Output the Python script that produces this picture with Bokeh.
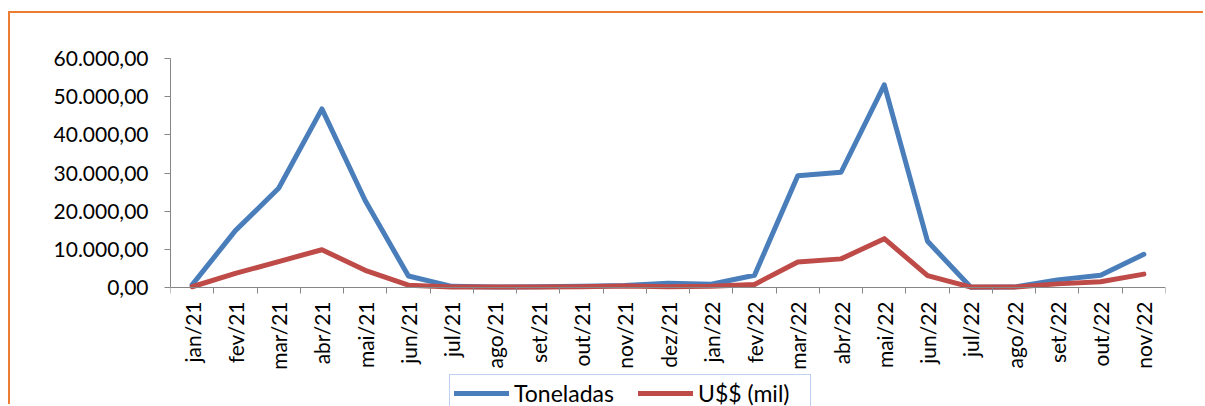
import math
from bokeh.plotting import figure
from bokeh.models import (Range1d, FixedTicker, CustomJSTickFormatter, Legend, LegendItem,
                          ColumnDataSource)
from bokeh.embed import file_html
from bokeh.resources import INLINE

months = ["jan/21", "fev/21", "mar/21", "abr/21", "mai/21", "jun/21", "jul/21", "ago/21",
          "set/21", "out/21", "nov/21", "dez/21", "jan/22", "fev/22", "mar/22", "abr/22",
          "mai/22", "jun/22", "jul/22", "ago/22", "set/22", "out/22", "nov/22"]
toneladas = [700, 14900, 26000, 46800, 22800, 3000, 300, 100, 200, 300, 500, 1100,
             850, 3200, 29300, 30200, 53100, 12100, 50, 100, 2000, 3200, 8700]
usd_mil = [200, 3700, 6800, 9900, 4500, 600, 150, 100, 150, 200, 400, 200,
           300, 800, 6700, 7500, 12800, 3100, 100, 100, 950, 1500, 3500]
y_ticks = [0, 10000, 20000, 30000, 40000, 50000, 60000]
y_labels = ["0,00", "10.000,00", "20.000,00", "30.000,00", "40.000,00", "50.000,00", "60.000,00"]

FONT = "Lato"
OX, OY = 10, 13          # canvas offset caused by the orange frame (margin + border)
TOP, ZERO = 58, 287      # window rows of the 60.000 and 0 gridlines
Y_MAX = 60000
y_min = -Y_MAX * (406 - ZERO) / (ZERO - TOP)   # extend frame down to window bottom

src = ColumnDataSource(dict(x=[i + 0.5 for i in range(len(months))], t=toneladas, u=usd_mil))

p = figure(width=1205 - OX, height=406 - OY, output_backend="svg", toolbar_location=None,
           x_range=Range1d(0, len(months)), y_range=Range1d(y_min, Y_MAX),
           min_border_left=170 - OX, min_border_right=40, min_border_top=TOP - OY,
           min_border_bottom=0)
p.styles = {"margin-left": "8px", "margin-top": "11px",
            "border-left": "2px solid #ED7D31", "border-top": "2px solid #ED7D31"}
p.outline_line_color = None
p.grid.visible = False
p.background_fill_color = "white"
p.border_fill_color = "white"

r1 = p.line("x", "t", source=src, line_color="#4A7EBB", line_width=5,
            line_join="round", line_cap="round")
r2 = p.line("x", "u", source=src, line_color="#BE4B48", line_width=5,
            line_join="round", line_cap="round")

xa = p.xaxis[0]
xa.fixed_location = 0
xa.ticker = FixedTicker(ticks=[i + 0.5 for i in range(len(months))],
                        minor_ticks=list(range(len(months) + 1)))
xa.formatter = CustomJSTickFormatter(args=dict(labels=months),
                                     code="return labels[Math.floor(tick)] || '';")
xa.major_tick_out = 0
xa.major_tick_in = 0
xa.minor_tick_out = 6
xa.minor_tick_in = 0
xa.major_label_orientation = math.pi / 2
xa.major_label_standoff = 8
xa.axis_line_color = "#868686"
xa.minor_tick_line_color = "#868686"
xa.major_label_text_font = FONT
xa.major_label_text_font_size = "21px"
xa.major_label_text_color = "black"

ya = p.yaxis[0]
ya.bounds = (0, Y_MAX)
ya.ticker = FixedTicker(ticks=y_ticks, minor_ticks=[])
ya.formatter = CustomJSTickFormatter(args=dict(labels=y_labels),
                                     code="return labels[Math.round(tick / 10000)] || '';")
ya.major_tick_out = 6
ya.major_tick_in = 0
ya.minor_tick_out = 0
ya.minor_tick_in = 0
ya.major_label_standoff = 16
ya.axis_line_color = "#868686"
ya.major_tick_line_color = "#868686"
ya.major_label_text_font = FONT
ya.major_label_text_font_size = "21px"
ya.major_label_text_color = "black"

legend = Legend(items=[LegendItem(label="Toneladas", renderers=[r1]),
                       LegendItem(label="U$$ (mil)", renderers=[r2])],
                orientation="horizontal", location=(279, -6),
                glyph_width=55, glyph_height=20, label_height=20, label_standoff=5,
                label_width=108, spacing=16, padding=4, margin=0,
                label_text_font=FONT, label_text_font_size="23px", label_text_color="black",
                border_line_color="#7EA6E0", border_line_width=1, background_fill_color="white")
p.add_layout(legend, "center")

open("out.html", "w").write(file_html(p, INLINE))
